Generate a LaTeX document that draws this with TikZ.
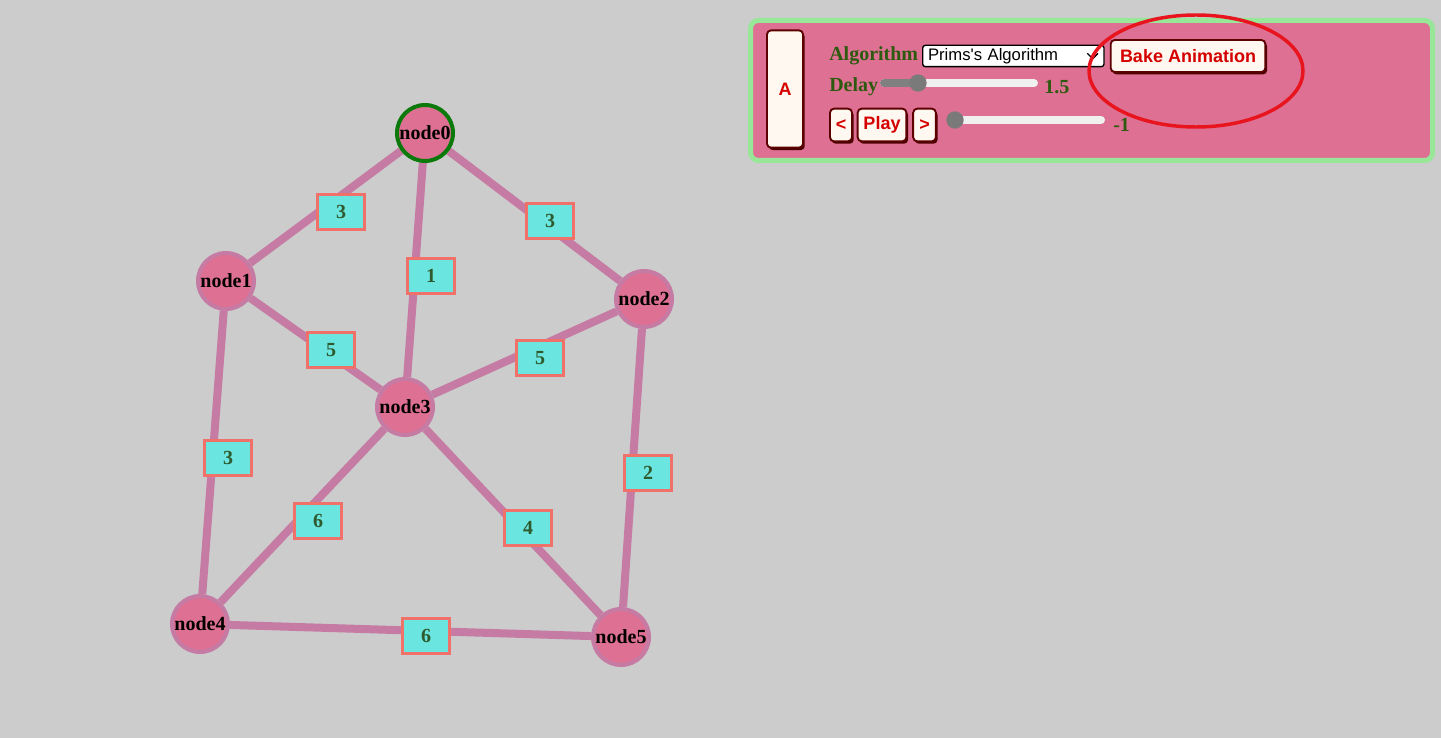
\documentclass[tikz,border=0pt]{standalone}
\usepackage{fontspec}
\setmainfont{Liberation Serif}
\setsansfont{Liberation Sans}
\usetikzlibrary{positioning,shadows,backgrounds}
\definecolor{bggray}{HTML}{CCCCCC}
\definecolor{edgecol}{HTML}{C57BA3}
\definecolor{nodecol}{HTML}{DE7093}
\definecolor{startgreen}{HTML}{0B7A0B}
\definecolor{weightfill}{HTML}{6BE5E0}
\definecolor{weightline}{HTML}{F0706A}
\definecolor{weighttext}{HTML}{2E5B2E}
\definecolor{panelgreen}{HTML}{98E698}
\definecolor{cream}{HTML}{FFF8F0}
\definecolor{btnline}{HTML}{5C0000}
\definecolor{btntext}{HTML}{D40000}
\definecolor{labelgreen}{HTML}{2D5A0F}
\definecolor{ringred}{HTML}{E8141E}
\tikzset{
graphnode/.style = {draw=edgecol, fill=nodecol, circle, line width=3pt, minimum size=42pt, inner sep=0pt, text=black, font=\bfseries\fontsize{15}{18}\selectfont},
weight/.style = {draw=weightline, fill=weightfill, rectangle, line width=2.2pt, minimum width=35pt, minimum height=26pt, inner sep=0pt, text=weighttext, font=\bfseries\fontsize{15}{18}\selectfont},
edge/.style = {draw=edgecol, line width=6pt},
button/.style = {draw=btnline, fill=cream, rectangle, rounded corners=3pt, line width=1.4pt, inner sep=0pt, text=btntext, font=\sffamily\bfseries\fontsize{13.5}{15}\selectfont, drop shadow={shadow xshift=1.3pt, shadow yshift=-1.8pt, fill=btnline!80!black, opacity=1}},
formlabel/.style = {anchor=west, inner sep=0pt, text=labelgreen, font=\bfseries\fontsize{15}{18}\selectfont},
select/.style = {draw=black, fill=white, rounded corners=2pt, line width=1pt, anchor=west, inner xsep=4pt, inner ysep=0pt, minimum height=16pt, text width=128pt, align=left, font=\sffamily\fontsize{12.5}{14}\selectfont},
track/.style = {draw=black!6, line width=6pt, line cap=round},
trackfill/.style = {draw=black!50, line width=6pt, line cap=round},
thumb/.style = {fill=black!52, circle, minimum size=13pt, inner sep=0pt},
}
\begin{document}
\begin{tikzpicture}[x=0.75pt,y=-0.75pt]
\useasboundingbox (0,0) rectangle (1441,738);
\node[graphnode, draw=startgreen] (node0) at (425,133) {node0};
\node[graphnode] (node1) at (226,281) {node1};
\node[graphnode] (node2) at (644,299) {node2};
\node[graphnode] (node3) at (405,407) {node3};
\node[graphnode] (node4) at (200,624) {node4};
\node[graphnode] (node5) at (621,637) {node5};
\begin{scope}[on background layer]
\fill[bggray] (0,0) rectangle (1441,738);
\foreach \a/\b in {node0/node1, node0/node3, node0/node2, node1/node3, node2/node3,
  node1/node4, node3/node4, node3/node5, node2/node5, node4/node5}
  \draw[edge] (\a) -- (\b);
\end{scope}
\node[weight] (w01) at (341,212) {3};
\node[weight] (w03) at (431,276) {1};
\node[weight] (w02) at (550,221) {3};
\node[weight] (w13) at (331,350) {5};
\node[weight] (w23) at (540,358) {5};
\node[weight] (w14) at (228,458) {3};
\node[weight] (w34) at (318,521) {6};
\node[weight] (w35) at (528,528) {4};
\node[weight] (w25) at (648,473) {2};
\node[weight] (w45) at (426,636) {6};

\draw[draw=panelgreen, line width=3.75pt, fill=nodecol, rounded corners=6pt] (750.5,20.5) rectangle (1432.5,160.5);
\node[button, minimum width=27pt, minimum height=88pt] (btnA) at (785,89) {A};
\node[formlabel] (algolabel) at (829,56) {Algorithm};
\node[select] (algoselect) at (922,56) {Prims\textquotesingle s Algorithm};
\draw[line width=1pt] ([xshift=-13pt,yshift=2pt]algoselect.east) -- ++(4pt,-4pt) -- ++(4pt,4pt);
\node[button, minimum width=116pt, minimum height=24pt] (bake) at (1188,56) {Bake Animation};
\node[formlabel] (delaylabel) at (829,87) {Delay};
\draw[track] (884,83) -- (1034,83);
\draw[trackfill] (884,83) -- (918,83);
\node[thumb] (delaythumb) at (918,83) {};
\node[formlabel] (delayval) at (1044,87) {1.5};
\node[button, minimum width=16.5pt, minimum height=24.5pt] (prev) at (841,125) {<};
\node[button, minimum width=36.5pt, minimum height=24.5pt] (play) at (882,125) {Play};
\node[button, minimum width=17pt, minimum height=24.5pt] (next) at (924.5,125) {>};
\draw[track] (959,120) -- (1101,120);
\node[thumb] (stepthumb) at (955,120) {};
\node[formlabel] (stepval) at (1113,125) {-1};
\draw[draw=ringred, line width=2.6pt] (1196,71) ellipse [x radius=107, y radius=56];
\end{tikzpicture}
\end{document}
